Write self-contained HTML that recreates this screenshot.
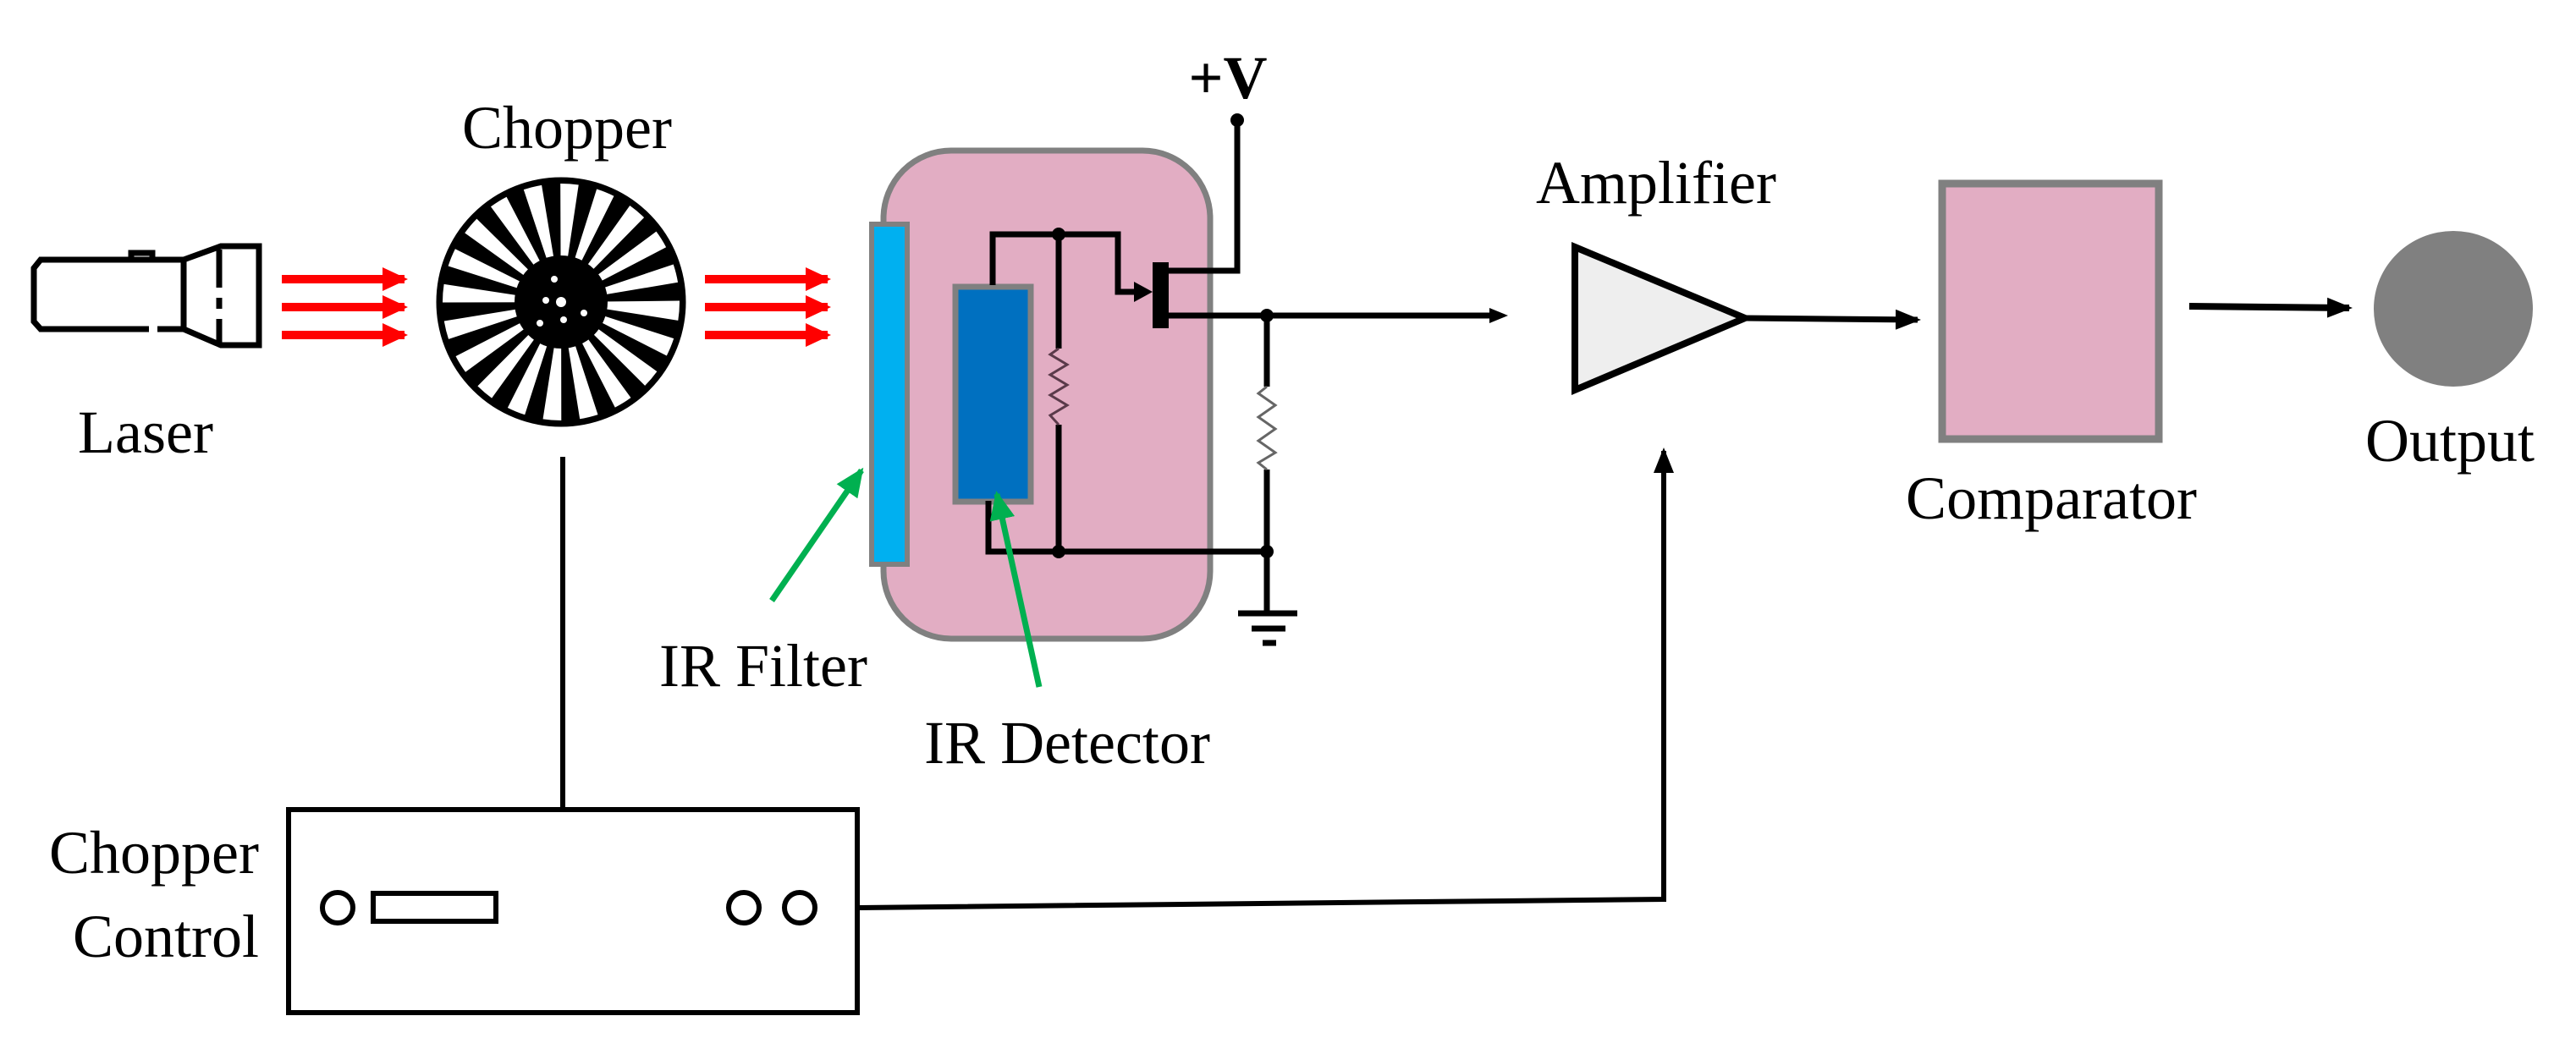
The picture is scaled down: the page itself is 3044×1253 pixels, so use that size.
<!DOCTYPE html>
<html><head><meta charset="utf-8"><style>
html,body{margin:0;padding:0;background:#fff;}
svg{display:block;}
text{font-family:"Liberation Serif",serif;font-size:72px;fill:#000;}
</style></head><body>
<svg width="3044" height="1253" viewBox="0 0 3044 1253" xmlns="http://www.w3.org/2000/svg">
<defs>
<marker id="ar" markerWidth="30" markerHeight="24" refX="26" refY="12" orient="auto" markerUnits="userSpaceOnUse"><path d="M0,0 L30,12 L0,24 Z" fill="#000"/></marker>
<marker id="rr" markerWidth="30" markerHeight="28" refX="26" refY="14" orient="auto" markerUnits="userSpaceOnUse"><path d="M0,0 L30,14 L0,28 Z" fill="#f00"/></marker>
<marker id="gr" markerWidth="34" markerHeight="30" refX="30" refY="15" orient="auto" markerUnits="userSpaceOnUse"><path d="M0,0 L34,15 L0,30 Z" fill="#00b050"/></marker>
</defs>

<!-- Laser -->
<g fill="none" stroke="#000" stroke-width="7">
<path d="M217,307 L48,307 L40,317 L40,380 L48,389 L176,389"/>
<path d="M186,389 L217,389"/>
<path d="M217,307 L217,389"/>
<path d="M217,307 L261,291 L306,291 L306,408 L261,408 L217,389"/>
<path d="M259,295 L259,340 M259,352 L259,365 M259,377 L259,405"/>
<path d="M155,307 L155,299 L180,299 L180,307"/>
</g>
<text x="172" y="535" text-anchor="middle">Laser</text>

<!-- red arrows -->
<g stroke="#f00" stroke-width="10" marker-end="url(#rr)">
<line x1="333" y1="330" x2="478" y2="330"/>
<line x1="333" y1="363" x2="478" y2="363"/>
<line x1="333" y1="396" x2="478" y2="396"/>
<line x1="833" y1="330" x2="978" y2="330"/>
<line x1="833" y1="363" x2="978" y2="363"/>
<line x1="833" y1="396" x2="978" y2="396"/>
</g>

<!-- Chopper -->
<text x="670" y="175" text-anchor="middle">Chopper</text>
<circle cx="663" cy="357" r="145" fill="#000"/>
<circle cx="663" cy="357" r="74" fill="none" stroke="#fff" stroke-width="132" stroke-dasharray="11.6 11.6"/>
<circle cx="663" cy="357" r="145" fill="none" stroke="#000" stroke-width="5"/>
<circle cx="663" cy="357" r="55" fill="#000"/>
<g fill="#fff"><circle cx="663" cy="357" r="6"/><circle cx="655" cy="330" r="4"/><circle cx="645" cy="355" r="4"/><circle cx="690" cy="370" r="4"/><circle cx="666" cy="378" r="4"/><circle cx="638" cy="382" r="4"/></g>
<line x1="665" y1="540" x2="665" y2="956" stroke="#000" stroke-width="6"/>

<!-- Chopper control -->
<rect x="341" y="957" width="672" height="240" fill="none" stroke="#000" stroke-width="6"/>
<circle cx="399" cy="1073" r="18" fill="none" stroke="#000" stroke-width="6"/>
<rect x="441" y="1056" width="145" height="33" fill="none" stroke="#000" stroke-width="6"/>
<circle cx="879" cy="1073" r="18" fill="none" stroke="#000" stroke-width="6"/>
<circle cx="945" cy="1073" r="18" fill="none" stroke="#000" stroke-width="6"/>
<text x="306" y="1032" text-anchor="end">Chopper</text>
<text x="306" y="1131" text-anchor="end">Control</text>
<polyline points="1013,1073 1966,1063 1966,533" fill="none" stroke="#000" stroke-width="6" marker-end="url(#ar)"/>

<!-- Detector housing -->
<rect x="1044" y="178" width="386" height="577" rx="80" fill="#e2adc3" stroke="#808080" stroke-width="7"/>
<rect x="1030" y="265" width="42" height="402" fill="#00b0f0" stroke="#808080" stroke-width="6"/>
<rect x="1129" y="339" width="89" height="254" fill="#0070c0" stroke="#808080" stroke-width="7"/>

<!-- circuit -->
<g fill="none" stroke="#000" stroke-width="7">
<polyline points="1173,337 1173,277 1321,277 1321,345 1345,345"/>
<line x1="1251" y1="277" x2="1251" y2="412"/>
<line x1="1251" y1="502" x2="1251" y2="652"/>
<polyline points="1168,592 1168,652 1497,652"/>
<polyline points="1381,320 1462,320 1462,142"/>
<line x1="1381" y1="373" x2="1770" y2="373"/>
<line x1="1497" y1="373" x2="1497" y2="457"/>
<line x1="1497" y1="555" x2="1497" y2="725"/>
<line x1="1463" y1="725" x2="1533" y2="725"/>
<line x1="1479" y1="743" x2="1519" y2="743"/>
<line x1="1492" y1="760" x2="1508" y2="760"/>
</g>
<path d="M1340,333 L1362,345 L1340,357 Z" fill="#000"/>
<path d="M1760,364 L1782,373 L1760,382 Z" fill="#000"/>
<polyline points="1251,412 1241,419 1261,431 1241,443 1261,455 1241,467 1261,479 1241,491 1251,502" fill="none" stroke="#5a3a4a" stroke-width="3"/>
<polyline points="1497,457 1487,465 1507,479 1487,493 1507,507 1487,521 1507,535 1487,547 1497,555" fill="none" stroke="#666" stroke-width="3"/>
<rect x="1362" y="310" width="19" height="78" fill="#000"/>
<g fill="#000"><circle cx="1251" cy="277" r="8"/><circle cx="1251" cy="652" r="8"/><circle cx="1497" cy="373" r="8"/><circle cx="1497" cy="652" r="8"/><circle cx="1462" cy="142" r="8"/></g>
<text x="1451" y="116" text-anchor="middle" font-weight="bold">+V</text>

<!-- green arrows -->
<line x1="912" y1="710" x2="1018" y2="556" stroke="#00b050" stroke-width="7" marker-end="url(#gr)"/>
<line x1="1228" y1="812" x2="1178" y2="584" stroke="#00b050" stroke-width="7" marker-end="url(#gr)"/>
<text x="902" y="811" text-anchor="middle">IR Filter</text>
<text x="1261" y="902" text-anchor="middle">IR Detector</text>

<!-- amplifier -->
<text x="1957" y="240" text-anchor="middle">Amplifier</text>
<polygon points="1861,292 2062,376 1861,461" fill="#eeeeee" stroke="#000" stroke-width="8" stroke-linejoin="miter"/>
<line x1="2062" y1="376" x2="2266" y2="378" stroke="#000" stroke-width="7" marker-end="url(#ar)"/>

<!-- comparator -->
<rect x="2295" y="217" width="256" height="302" fill="#e2adc3" stroke="#808080" stroke-width="9"/>
<text x="2424" y="613" text-anchor="middle">Comparator</text>
<line x1="2587" y1="362" x2="2776" y2="364" stroke="#000" stroke-width="8" marker-end="url(#ar)"/>

<!-- output -->
<ellipse cx="2899" cy="365" rx="94" ry="92" fill="#808080"/>
<text x="2895" y="545" text-anchor="middle">Output</text>
</svg>
</body></html>
